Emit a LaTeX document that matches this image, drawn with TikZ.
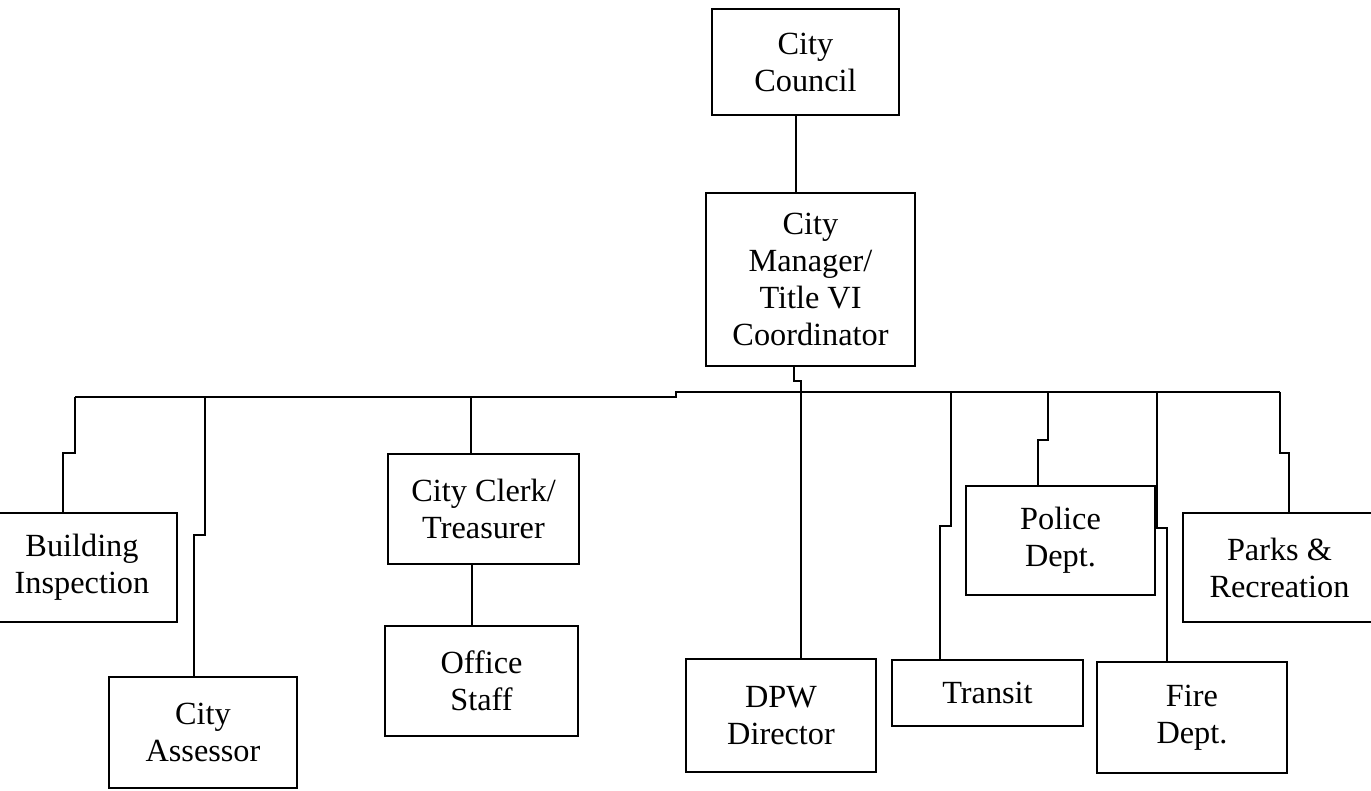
\documentclass[tikz,border=0pt]{standalone}
\usepackage{fontspec}
\setmainfont{Liberation Serif}
\begin{document}
\begin{tikzpicture}[x=1pt,y=-1pt,
  box/.style={draw, line width=2pt, align=center, inner sep=0pt,
              font=\fontsize{32.3}{37}\selectfont},
  conn/.style={line width=1.6pt}]
\useasboundingbox (0,0) rectangle (1371,791);
\fill[white] (0,0) rectangle (1371,791);

% boxes
\node[box, minimum width=187pt, minimum height=106pt] (council)  at (805.5,62)   {City\\Council};
\node[box, minimum width=209pt, minimum height=173pt] (manager)  at (810.5,279.5) {City\\Manager/\\Title VI\\Coordinator};
\node[box, minimum width=190pt, minimum height=109pt] (bldg)     at (82,567.5)   {Building\\Inspection};
\node[box, minimum width=188pt, minimum height=111pt] (assessor) at (203,732.5)  {City\\Assessor};
\node[box, minimum width=191pt, minimum height=110pt] (clerk)    at (483.5,509)  {City Clerk/\\Treasurer};
\node[box, minimum width=193pt, minimum height=110pt] (office)   at (481.5,681)  {Office\\Staff};
\node[box, minimum width=190pt, minimum height=113pt] (dpw)      at (781,715.5)  {DPW\\Director};
\node[box, minimum width=191pt, minimum height=66pt]  (transit)  at (987.5,693)  {Transit};
\node[box, minimum width=189pt, minimum height=109pt] (police)   at (1060.5,540.5) {Police\\Dept.};
\node[box, minimum width=190pt, minimum height=111pt] (fire)     at (1192,717.5) {Fire\\Dept.};
\node[box, minimum width=193pt, minimum height=109pt] (parks)    at (1279.5,567.5) {Parks \&\\Recreation};

% helper coordinates
\coordinate (cc) at (796,0);
\coordinate (m1) at (794,381);
\coordinate (m2) at (801,381);
\coordinate (b0) at (75,397);
\coordinate (bj1) at (676,397);
\coordinate (bj2) at (676,392);
\coordinate (b9) at (1280,392);
\coordinate (bi1) at (75,453);
\coordinate (bi2) at (63,453);
\coordinate (ba0) at (205,397);
\coordinate (ba1) at (205,535);
\coordinate (ba2) at (194,535);
\coordinate (bc0) at (471,397);
\coordinate (oc) at (472,0);
\coordinate (bt0) at (951,392);
\coordinate (bt1) at (951,526);
\coordinate (bt2) at (940,526);
\coordinate (bp0) at (1048,392);
\coordinate (bp1) at (1048,440);
\coordinate (bp2) at (1038,440);
\coordinate (bf0) at (1157,392);
\coordinate (bf1) at (1157,528);
\coordinate (bf2) at (1167,528);
\coordinate (bk1) at (1280,453);
\coordinate (bk2) at (1289,453);

% connectors
\draw[conn] (council.south -| cc) -- (manager.north -| cc);
\draw[conn] (manager.south -| m1) -- (m1) -- (m2) -- (dpw.north -| m2);
\draw[conn] (b0) -- (bj1) -- (bj2) -- (b9);
\draw[conn] (b0) -- (bi1) -- (bi2) -- (bldg.north -| bi2);
\draw[conn] (ba0) -- (ba1) -- (ba2) -- (assessor.north -| ba2);
\draw[conn] (bc0) -- (clerk.north -| bc0);
\draw[conn] (clerk.south -| oc) -- (office.north -| oc);
\draw[conn] (bt0) -- (bt1) -- (bt2) -- (transit.north -| bt2);
\draw[conn] (bp0) -- (bp1) -- (bp2) -- (police.north -| bp2);
\draw[conn] (bf0) -- (bf1) -- (bf2) -- (fire.north -| bf2);
\draw[conn] (b9) -- (bk1) -- (bk2) -- (parks.north -| bk2);
\end{tikzpicture}
\end{document}
